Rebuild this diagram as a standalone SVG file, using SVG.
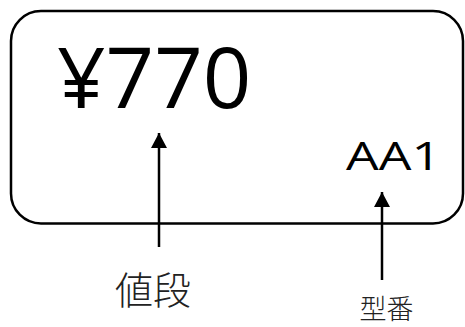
<svg xmlns="http://www.w3.org/2000/svg" width="465" height="327" viewBox="0 0 465 327">
<style>
.box{fill:#fff;stroke:#000;stroke-width:2.5}
.lat{font-family:"Open Sans","Noto Sans",sans-serif;fill:#000}
.jp{font-family:"Noto Sans CJK JP","Noto Sans CJK SC",sans-serif;font-weight:300;fill:#222;text-anchor:middle}
.conn line{stroke:#000;stroke-width:2.5}
</style>
<defs>
<marker id="ah" viewBox="0 0 15 16" refX="15" refY="8" markerWidth="15" markerHeight="16" markerUnits="userSpaceOnUse" orient="auto">
<path d="M0,0 L15,8 L0,16 Z" fill="#000"/>
</marker>
</defs>
<rect width="465" height="327" fill="#fff"/>
<g id="card">
<rect class="box" x="11" y="11" width="452" height="212.5" rx="30" ry="30"/>
<text class="lat" x="57" y="108" font-size="85">¥770</text>
<text class="lat" x="346" y="169.5" font-size="38" textLength="95" lengthAdjust="spacingAndGlyphs">AA1</text>
</g>
<g id="label-price">
<text class="jp" x="153" y="304" font-size="38">値段</text>
</g>
<g id="label-model">
<text class="jp" x="386.5" y="319" font-size="27">型番</text>
</g>
<g class="conn" id="connectors">
<line x1="159" y1="247" x2="159" y2="133" marker-end="url(#ah)"/>
<line x1="382" y1="280" x2="382" y2="192" marker-end="url(#ah)"/>
</g>
</svg>
